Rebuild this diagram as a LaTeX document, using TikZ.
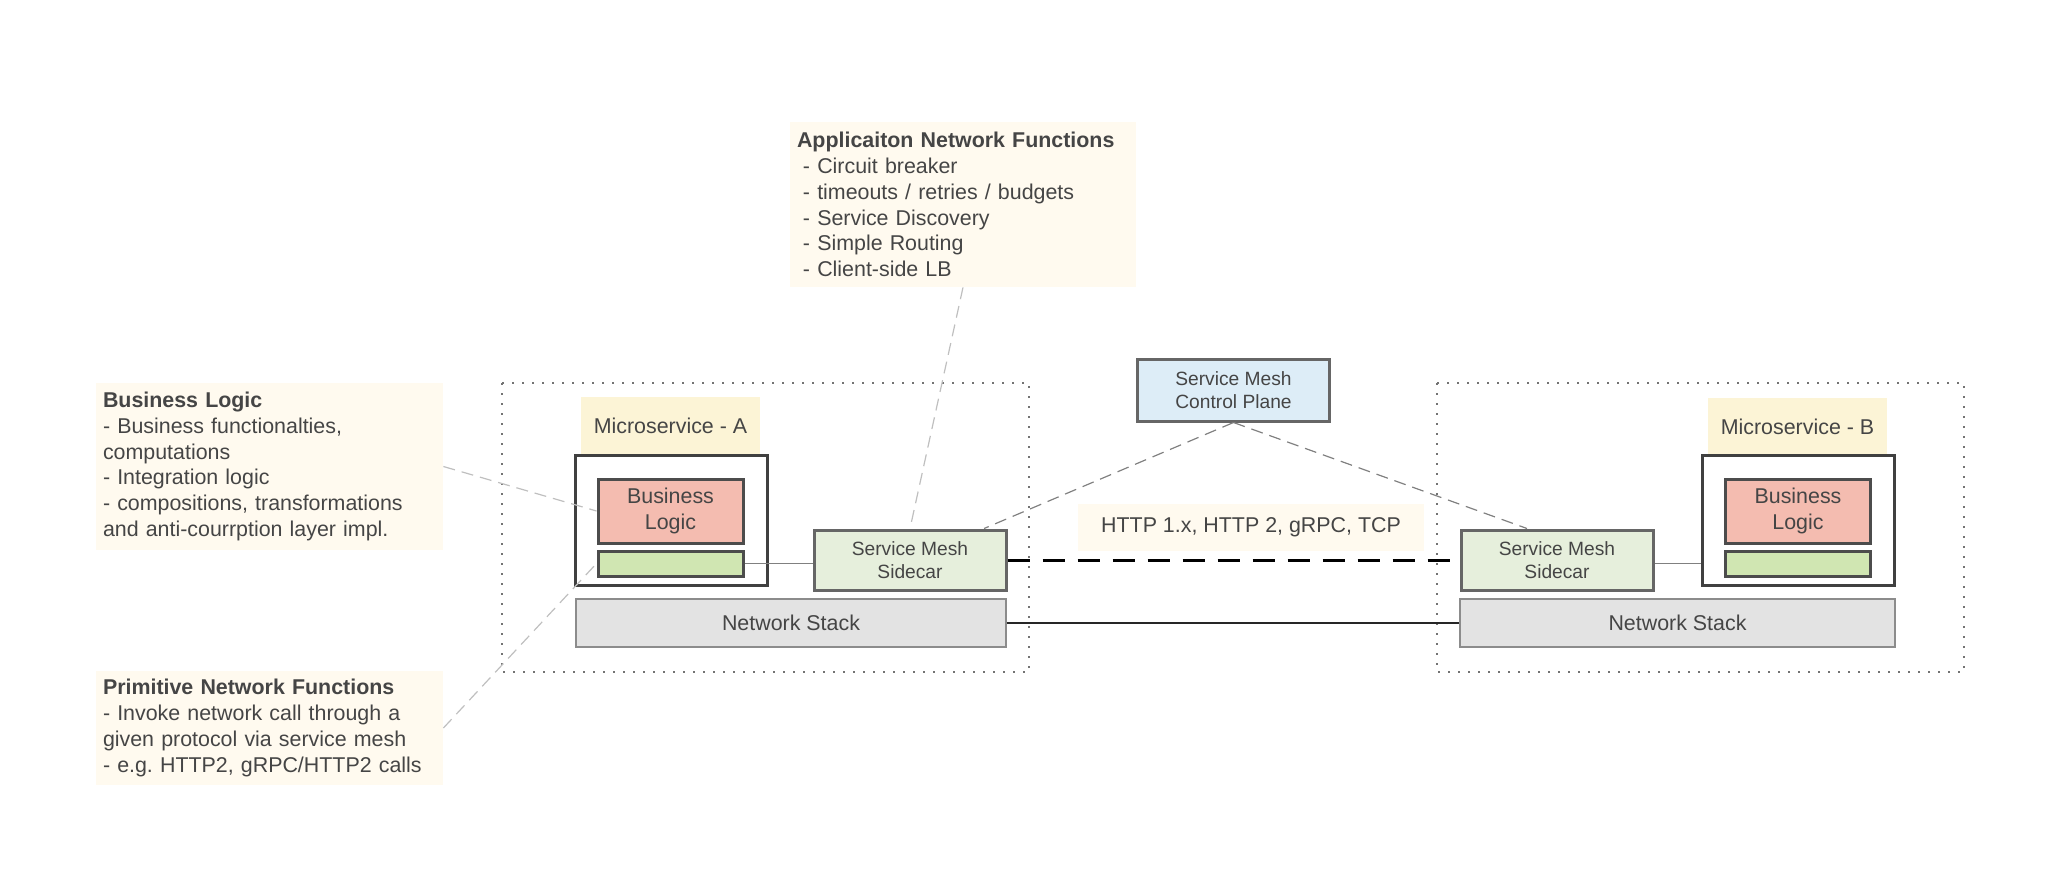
\documentclass[tikz,border=0pt]{standalone}
\usepackage{fontspec}
\setmainfont{Liberation Sans}
\usepackage{tikz}
\usetikzlibrary{calc}
\frenchspacing
\definecolor{notecol}{HTML}{FFFAEF}
\definecolor{mscol}{HTML}{FCF4D6}
\definecolor{blcol}{HTML}{F4BCB0}
\definecolor{gbcol}{HTML}{D0E6B2}
\definecolor{sidecol}{HTML}{E6EFDC}
\definecolor{cpcol}{HTML}{DDEDF7}
\definecolor{netcol}{HTML}{E3E3E3}
\definecolor{txtcol}{HTML}{454545}
\tikzstyle{every node}=[rectangle,inner sep=0pt,text=txtcol,align=center,font=\fontsize{10.7}{12.6}\selectfont]
\tikzstyle{note}=[fill=notecol,inner xsep=3.5pt,align=left,font=\fontsize{10.7}{12.9}\selectfont]
\tikzstyle{mslabel}=[fill=mscol,minimum width=89.5pt,minimum height=29pt]
\tikzstyle{cont}=[draw=black!75,line width=1.5pt,fill=white,minimum width=96pt,minimum height=65pt]
\tikzstyle{blbox}=[draw=black!70,line width=1.5pt,fill=blcol,minimum width=72.5pt,minimum height=32pt]
\tikzstyle{gbbar}=[draw=black!70,line width=1.5pt,fill=gbcol,minimum width=72.5pt,minimum height=12.5pt]
\tikzstyle{sidecar}=[draw=black!60,line width=1.5pt,fill=sidecol,minimum width=96pt,minimum height=30pt,font=\fontsize{9.6}{11.7}\selectfont]
\tikzstyle{netbox}=[draw=black!45,line width=0.6pt,fill=netcol,minimum height=24pt]
\tikzstyle{podbox}=[draw=black!55,line width=1pt,dash pattern=on 0.8pt off 4.2pt]
\tikzstyle{leader}=[draw=black!25,line width=0.6pt,dash pattern=on 6pt off 3.5pt]
\tikzstyle{ctrl}=[draw=black!50,line width=0.6pt,dash pattern=on 6pt off 3.5pt]

\begin{document}
\begin{tikzpicture}[x=0.5pt,y=-0.5pt]
\useasboundingbox (0,0) rectangle (2052,874);
% pods
\draw[podbox] (502,383) rectangle (1029,672);
\draw[podbox] (1437,383) rectangle (1964,672);
% notes
\node (appnote)[note,text width=166pt,minimum height=82.5pt] at (963,204.5)
  {\textbf{Applicaiton Network Functions}\\\hspace*{0.28em}- Circuit breaker\\\hspace*{0.28em}- timeouts / retries / budgets\\\hspace*{0.28em}- Service Discovery\\\hspace*{0.28em}- Simple Routing\\\hspace*{0.28em}- Client-side LB};
\node (blnote)[note,text width=166.5pt,minimum height=83.5pt] at (269.5,466.5)
  {\textbf{Business Logic}\\- Business functionalties,\\computations\\- Integration logic\\- compositions, transformations\\and anti-courrption layer impl.};
\node (pnnote)[note,text width=166.5pt,minimum height=57pt] at (269.5,728)
  {\textbf{Primitive Network Functions}\\- Invoke network call through a\\given protocol via service mesh\\- e.g. HTTP2, gRPC/HTTP2 calls};
% microservice A
\node (msA)[mslabel] at (670.5,426) {Microservice - A};
\node (contA)[cont] at (671,520) {};
\node (blA)[blbox] at (670.5,511) {Business\\Logic};
\node (gbA)[gbbar] at (670.5,563.5) {};
\node (sideA)[sidecar] at (910,560) {Service Mesh\\Sidecar};
\node (netA)[netbox,minimum width=215pt] at (791,623) {Network Stack};
% control plane
\node (cp)[sidecar,fill=cpcol,minimum height=31pt] at (1233.5,390) {Service Mesh\\Control Plane};
\node (http)[fill=notecol,minimum width=173pt,minimum height=23.5pt] at (1251,527.5) {HTTP 1.x, HTTP 2, gRPC, TCP};
% microservice B
\node (msB)[mslabel] at (1797.5,427) {Microservice - B};
\node (contB)[cont] at (1798,520) {};
\node (blB)[blbox] at (1798,511) {Business\\Logic};
\node (gbB)[gbbar] at (1798,563.5) {};
\node (sideB)[sidecar] at (1557,560) {Service Mesh\\Sidecar};
\node (netB)[netbox,minimum width=217.5pt] at (1677.5,623) {Network Stack};
% connectors
\draw[draw=black!50,line width=0.7pt] (gbA.east) -- (gbA.east -| sideA.west);
\draw[draw=black!50,line width=0.7pt] (gbB.west -| sideB.east) -- (gbB.west -| contB.west);
\draw[line width=1.5pt,dash pattern=on 11pt off 6.5pt] (sideA.east) -- (sideB.west);
\draw[line width=0.7pt,black!85] (netA.east) -- (netB.west);
\draw[ctrl] (cp.south) -- (sideA);
\draw[ctrl] (cp.south) -- ($(sideB.north)+(-30,0)$);
\draw[leader] (appnote.south) -- (sideA.north);
\draw[leader] (blnote.east) -- (blA.west);
\draw[leader] (pnnote.east) -- (gbA.west);
\end{tikzpicture}
\end{document}
